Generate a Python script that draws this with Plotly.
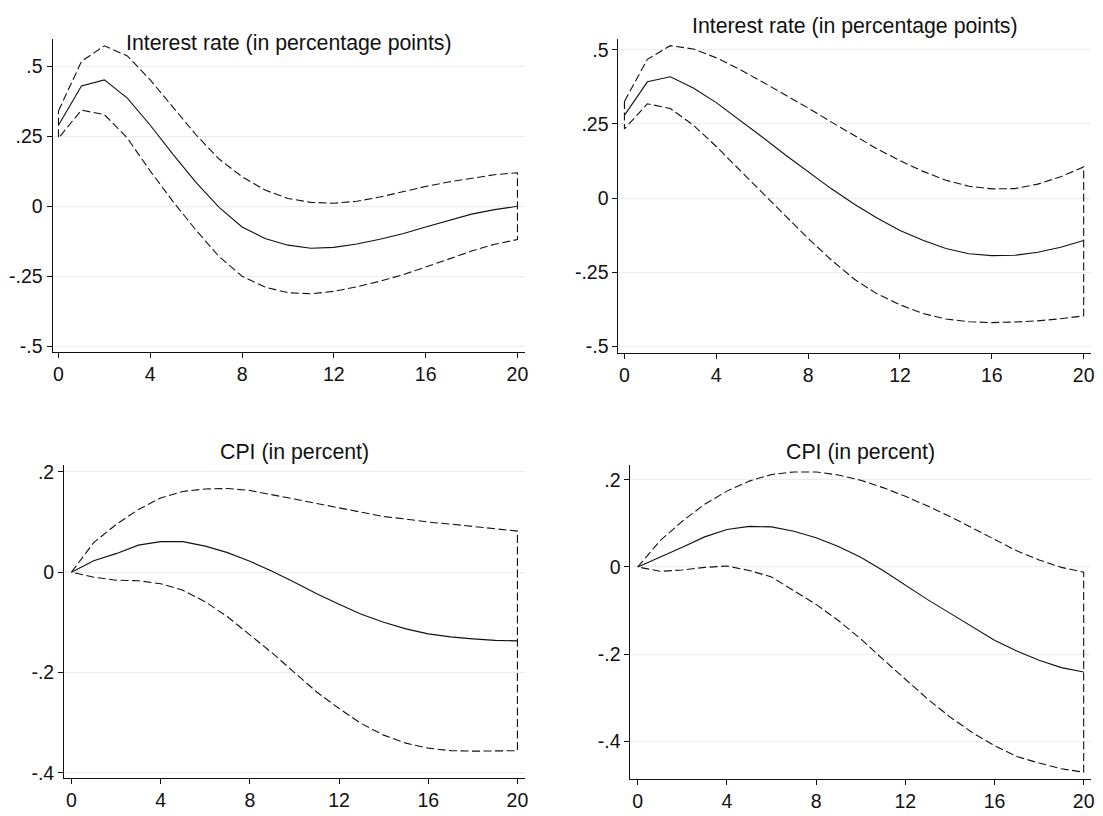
import plotly.graph_objects as go

horizon = list(range(21))

# Panel 1 (top-left): Interest rate
ir1_mid = [0.29, 0.43, 0.452, 0.387, 0.29, 0.185, 0.085, -0.004, -0.074, -0.115, -0.139,
           -0.15, -0.147, -0.135, -0.118, -0.098, -0.074, -0.05, -0.028, -0.012, 0.0]
ir1_up = [0.341, 0.518, 0.574, 0.538, 0.452, 0.355, 0.255, 0.169, 0.106, 0.058, 0.028,
          0.014, 0.011, 0.018, 0.033, 0.052, 0.071, 0.087, 0.101, 0.113, 0.12]
ir1_lo = [0.244, 0.344, 0.328, 0.244, 0.126, 0.016, -0.086, -0.18, -0.25, -0.289, -0.309,
          -0.313, -0.304, -0.288, -0.268, -0.245, -0.218, -0.189, -0.16, -0.136, -0.119]

# Panel 2 (top-right): Interest rate
ir2_mid = [0.279, 0.392, 0.409, 0.371, 0.322, 0.265, 0.206, 0.146, 0.088, 0.032, -0.02,
           -0.067, -0.109, -0.142, -0.17, -0.188, -0.194, -0.193, -0.183, -0.166, -0.143]
ir2_up = [0.326, 0.468, 0.514, 0.503, 0.473, 0.435, 0.392, 0.349, 0.304, 0.257, 0.211,
          0.166, 0.126, 0.09, 0.06, 0.04, 0.031, 0.032, 0.047, 0.072, 0.105]
ir2_lo = [0.233, 0.318, 0.302, 0.246, 0.174, 0.096, 0.019, -0.059, -0.136, -0.208, -0.273,
          -0.323, -0.36, -0.389, -0.408, -0.417, -0.42, -0.418, -0.414, -0.407, -0.397]

# Panel 3 (bottom-left): CPI
cpi1_mid = [0.0, 0.023, 0.037, 0.054, 0.061, 0.061, 0.052, 0.039, 0.022, 0.002, -0.02,
            -0.043, -0.064, -0.084, -0.1, -0.113, -0.123, -0.129, -0.133, -0.136, -0.137]
cpi1_up = [0.0, 0.059, 0.095, 0.125, 0.148, 0.161, 0.166, 0.167, 0.163, 0.155, 0.146,
           0.137, 0.128, 0.119, 0.111, 0.106, 0.1, 0.096, 0.091, 0.087, 0.082]
cpi1_lo = [0.0, -0.01, -0.016, -0.017, -0.023, -0.036, -0.059, -0.089, -0.125, -0.161, -0.2,
           -0.239, -0.272, -0.302, -0.325, -0.341, -0.351, -0.356, -0.357, -0.357, -0.356]

# Panel 4 (bottom-right): CPI
cpi2_mid = [0.0, 0.022, 0.045, 0.069, 0.086, 0.093, 0.092, 0.082, 0.067, 0.047, 0.022,
            -0.008, -0.042, -0.075, -0.106, -0.138, -0.168, -0.193, -0.214, -0.231, -0.241]
cpi2_up = [0.0, 0.06, 0.105, 0.144, 0.174, 0.197, 0.212, 0.218, 0.218, 0.211, 0.199,
           0.182, 0.162, 0.14, 0.116, 0.09, 0.063, 0.037, 0.016, -0.001, -0.012]
cpi2_lo = [0.0, -0.01, -0.007, -0.001, 0.002, -0.008, -0.023, -0.054, -0.086, -0.123, -0.165,
           -0.212, -0.258, -0.303, -0.344, -0.38, -0.41, -0.435, -0.45, -0.463, -0.471]

titles = ["Interest rate (in percentage points)", "Interest rate (in percentage points)",
          "CPI (in percent)", "CPI (in percent)"]

x_ticks = [0, 4, 8, 12, 16, 20]
ir_ticks = [-0.5, -0.25, 0, 0.25, 0.5]
ir_ticktext = ["-.5", "-.25", "0", ".25", ".5"]
cpi1_ticks = [-0.4, -0.2, 0, 0.2]
cpi1_ticktext = ["-.4", "-.2", "0", ".2"]
cpi2_ticks = [-0.4, -0.2, 0, 0.2]
cpi2_ticktext = ["-.4", "-.2", "0", ".2"]

W, H = 1103, 816
FONT = "Liberation Sans, Arial, Helvetica, sans-serif"
INK = "#111111"
GRID = "#e6eef0"

panels = [
    dict(mid=ir1_mid, up=ir1_up, lo=ir1_lo, ticks=ir_ticks, tt=ir_ticktext,
         xdom=[52.7, 526.7], ydom=[34.3, 351.7], xr=[-0.26, 20.32], yr=[-0.521, 0.599],
         title_y=39),
    dict(mid=ir2_mid, up=ir2_up, lo=ir2_lo, ticks=ir_ticks, tt=ir_ticktext,
         xdom=[620.7, 1095.0], ydom=[34.3, 352.3], xr=[-0.26, 20.32], yr=[-0.521, 0.537],
         title_y=21),
    dict(mid=cpi1_mid, up=cpi1_up, lo=cpi1_lo, ticks=cpi1_ticks, tt=cpi1_ticktext,
         xdom=[64.3, 526.7], ydom=[466.7, 783.3], xr=[-0.33, 20.33], yr=[-0.41, 0.213],
         title_y=453),
    dict(mid=cpi2_mid, up=cpi2_up, lo=cpi2_lo, ticks=cpi2_ticks, tt=cpi2_ticktext,
         xdom=[632.7, 1095.0], ydom=[466.7, 784.3], xr=[-0.33, 20.33], yr=[-0.486, 0.233],
         title_y=453),
]

fig = go.Figure()
layout = dict(
    width=W, height=H, margin=dict(l=0, r=0, t=0, b=0),
    paper_bgcolor="white", plot_bgcolor="white",
    showlegend=False, font=dict(family=FONT, size=19, color=INK),
    annotations=[],
)

for k, p in enumerate(panels):
    n = "" if k == 0 else str(k + 1)
    xa, ya = "x" + n, "y" + n
    # closed dashed outline of the confidence band
    bx = horizon + horizon[::-1] + [horizon[0]]
    by = p["up"] + p["lo"][::-1] + [p["up"][0]]
    fig.add_trace(go.Scatter(x=bx, y=by, mode="lines", xaxis=xa, yaxis=ya,
                             line=dict(color=INK, width=1.1, dash="8px,3.5px"),
                             hoverinfo="skip"))
    fig.add_trace(go.Scatter(x=horizon, y=p["mid"], mode="lines", xaxis=xa, yaxis=ya,
                             line=dict(color=INK, width=1.1)))
    xd = [p["xdom"][0] / W, p["xdom"][1] / W]
    yd = [1 - p["ydom"][1] / H, 1 - p["ydom"][0] / H]
    layout["xaxis" + n] = dict(
        domain=xd, range=p["xr"], anchor=ya, tickvals=x_ticks,
        showline=True, linecolor=INK, linewidth=1, ticks="outside", ticklen=5,
        tickcolor=INK, tickwidth=1, showgrid=False, zeroline=False,
        tickfont=dict(size=19.5, color=INK, family=FONT),
    )
    layout["yaxis" + n] = dict(
        domain=yd, range=p["yr"], anchor=xa, tickvals=p["ticks"], ticktext=p["tt"],
        showline=True, linecolor=INK, linewidth=1, ticks="outside", ticklen=5,
        tickcolor=INK, tickwidth=1, showgrid=True, gridcolor=GRID, gridwidth=1,
        zeroline=False, tickfont=dict(size=19.5, color=INK, family=FONT),
    )
    layout["annotations"].append(dict(
        text=titles[k], xref="paper", yref="paper",
        x=(xd[0] + xd[1]) / 2, y=1 - p["title_y"] / H,
        xanchor="center", yanchor="middle", showarrow=False,
        font=dict(size=21.3, color=INK, family=FONT),
    ))

fig.update_layout(**layout)
fig.write_html("out.html")
